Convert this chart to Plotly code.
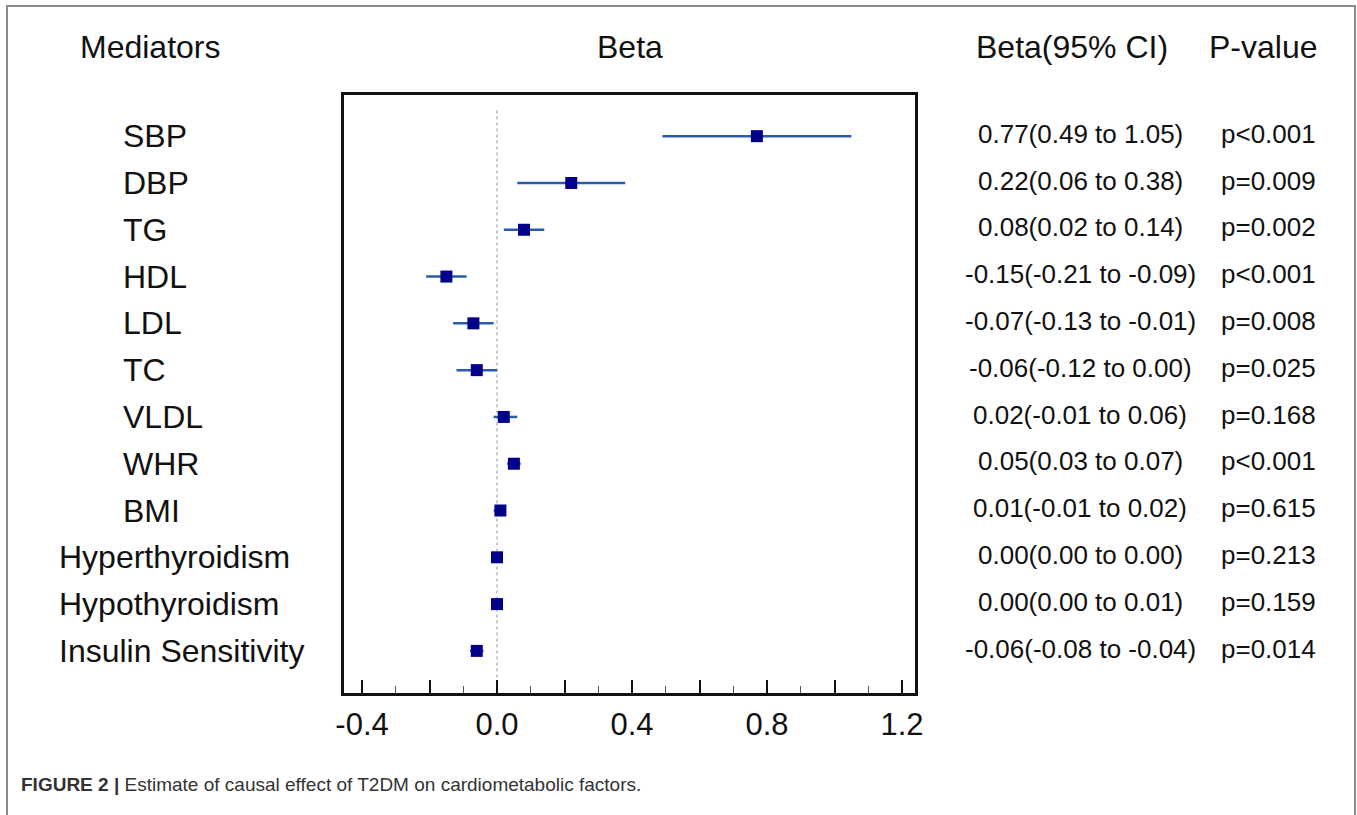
import plotly.graph_objects as go

mediators = ["SBP", "DBP", "TG", "HDL", "LDL", "TC", "VLDL", "WHR", "BMI",
             "Hyperthyroidism", "Hypothyroidism", "Insulin Sensitivity"]
beta = [0.77, 0.22, 0.08, -0.15, -0.07, -0.06, 0.02, 0.05, 0.01, 0.00, 0.00, -0.06]
lower = [0.49, 0.06, 0.02, -0.21, -0.13, -0.12, -0.01, 0.03, -0.01, 0.00, 0.00, -0.08]
upper = [1.05, 0.38, 0.14, -0.09, -0.01, 0.00, 0.06, 0.07, 0.02, 0.00, 0.01, -0.04]
ci_text = ["0.77(0.49 to 1.05)", "0.22(0.06 to 0.38)", "0.08(0.02 to 0.14)",
           "-0.15(-0.21 to -0.09)", "-0.07(-0.13 to -0.01)", "-0.06(-0.12 to 0.00)",
           "0.02(-0.01 to 0.06)", "0.05(0.03 to 0.07)", "0.01(-0.01 to 0.02)",
           "0.00(0.00 to 0.00)", "0.00(0.00 to 0.01)", "-0.06(-0.08 to -0.04)"]
p_text = ["p<0.001", "p=0.009", "p=0.002", "p<0.001", "p=0.008", "p=0.025",
          "p=0.168", "p<0.001", "p=0.615", "p=0.213", "p=0.159", "p=0.014"]
major_ticks = [-0.4, -0.2, 0.0, 0.2, 0.4, 0.6, 0.8, 1.0, 1.2]
tick_labels = ["-0.4", "", "0.0", "", "0.4", "", "0.8", "", "1.2"]

rows = list(range(1, len(mediators) + 1))

W, H = 1357, 815
L, R, T, B = 344, 915, 95, 693
pw, ph = R - L, B - T


def px(x):
    return (x - L) / pw


def py(y):
    return (B - y) / ph


FONT = "Liberation Sans, Arial, sans-serif"

fig = go.Figure()
fig.add_trace(go.Scatter(
    x=beta, y=rows, mode="markers",
    marker=dict(symbol="square", size=12, color="#00008b"),
    error_x=dict(type="data", symmetric=False,
                 array=[u - b for u, b in zip(upper, beta)],
                 arrayminus=[b - l for b, l in zip(beta, lower)],
                 color="#2a5cab", thickness=2.5, width=0),
    showlegend=False, hoverinfo="skip",
))

# zero reference line
fig.add_shape(type="line", xref="x", yref="y", x0=0, x1=0, y0=0.45, y1=12.9,
              line=dict(color="#7f93b0", width=1, dash="dot"), layer="below")

# outer gray frame
fig.add_shape(type="rect", xref="paper", yref="paper",
              x0=px(7), x1=px(1355), y0=py(830), y1=py(6),
              line=dict(color="#8a8a8a", width=2))

ann = []
# headers
hdr_y = py(47)
for txt, x in [("Mediators", 150), ("Beta", 630), ("Beta(95% CI)", 1072), ("P-value", 1263)]:
    ann.append(dict(text=txt, x=px(x), y=hdr_y, xref="paper", yref="paper",
                    xanchor="center", yanchor="middle", showarrow=False,
                    font=dict(family=FONT, size=32, color="#111")))

for i, name in enumerate(mediators):
    left = 121 if len(name) <= 4 else 57
    ann.append(dict(text=name, x=px(left), y=rows[i], xref="paper", yref="y",
                    xanchor="left", yanchor="middle", showarrow=False,
                    font=dict(family=FONT, size=32, color="#111")))
    ann.append(dict(text=ci_text[i], x=px(1080), y=rows[i] - 0.05, xref="paper", yref="y",
                    xanchor="center", yanchor="middle", showarrow=False,
                    font=dict(family=FONT, size=26, color="#111")))
    ann.append(dict(text=p_text[i], x=px(1268), y=rows[i] - 0.05, xref="paper", yref="y",
                    xanchor="center", yanchor="middle", showarrow=False,
                    font=dict(family=FONT, size=26, color="#111")))

ann.append(dict(text="<b>FIGURE 2 |</b> Estimate of causal effect of T2DM on cardiometabolic factors.",
                x=px(19), y=py(784), xref="paper", yref="paper",
                xanchor="left", yanchor="middle", showarrow=False,
                font=dict(family=FONT, size=19, color="#333")))

fig.update_layout(
    width=W, height=H,
    margin=dict(l=L, r=W - R, t=T, b=H - B, pad=0),
    paper_bgcolor="white", plot_bgcolor="white",
    annotations=ann,
    xaxis=dict(range=[-0.4534, 1.2385], tickvals=major_ticks, ticktext=tick_labels,
               ticks="inside", ticklen=13, tickwidth=2, tickcolor="#111",
               minor=dict(dtick=0.1, tick0=0, ticks="inside", ticklen=7,
                          tickwidth=1, tickcolor="#555"),
               showgrid=False, zeroline=False, showline=True, linecolor="#111",
               linewidth=2.8, mirror=True, ticklabelstandoff=2,
               tickfont=dict(family=FONT, size=31, color="#111")),
    yaxis=dict(range=[12.9, 0.12], showticklabels=False, ticks="", showgrid=False,
               zeroline=False, showline=True, linecolor="#111", linewidth=2.8,
               mirror=True),
)

fig.write_html("out.html")
